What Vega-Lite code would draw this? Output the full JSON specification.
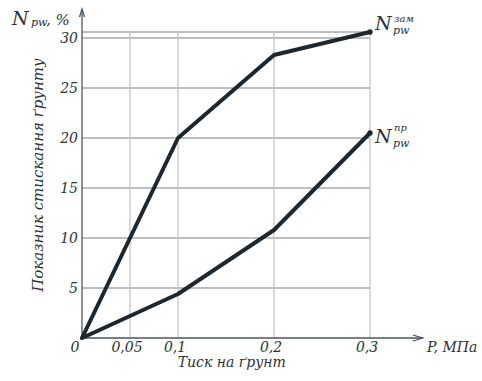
{
  "$schema": "https://vega.github.io/schema/vega-lite/v6.json",
  "width": 360,
  "height": 338,
  "autosize": "none",
  "padding": {"left": 82, "top": 0, "right": 40, "bottom": 43},
  "background": "white",
  "config": {
    "view": {"stroke": null},
    "text": {"font": "DejaVu Serif", "fontStyle": "italic", "color": "#2b3238"}
  },
  "datasets": {
    "series": [
      {"series": "зам", "p": 0, "n": 0},
      {"series": "зам", "p": 0.1, "n": 20},
      {"series": "зам", "p": 0.2, "n": 28.3},
      {"series": "зам", "p": 0.3, "n": 30.6},
      {"series": "пр", "p": 0, "n": 0},
      {"series": "пр", "p": 0.1, "n": 4.4},
      {"series": "пр", "p": 0.2, "n": 10.8},
      {"series": "пр", "p": 0.3, "n": 20.5}
    ],
    "hgrid": [{"n": 5}, {"n": 10}, {"n": 15}, {"n": 20}, {"n": 25}, {"n": 30}, {"n": 30.6}],
    "vgrid": [{"p": 0.05}, {"p": 0.1}, {"p": 0.2}, {"p": 0.3}],
    "xticks": [{"p": 0, "label": "0"}, {"p": 0.05, "label": "0,05"}, {"p": 0.1, "label": "0,1"}, {"p": 0.2, "label": "0,2"}, {"p": 0.3, "label": "0,3"}],
    "yticks": [{"n": 5, "label": "5"}, {"n": 10, "label": "10"}, {"n": 15, "label": "15"}, {"n": 20, "label": "20"}, {"n": 25, "label": "25"}, {"n": 30, "label": "30"}],
    "one": [{}]
  },
  "layer": [
    {
      "data": {"name": "hgrid"},
      "mark": {"type": "rule", "color": "#a8a8a8", "strokeWidth": 1.3},
      "encoding": {
        "y": {"field": "n", "type": "quantitative", "scale": {"domain": [0, 33.8], "nice": false}, "axis": null},
        "x": {"datum": 0, "type": "quantitative", "scale": {"domain": [0, 0.375], "nice": false}, "axis": null},
        "x2": {"datum": 0.3}
      }
    },
    {
      "data": {"name": "vgrid"},
      "mark": {"type": "rule", "color": "#c6c6c6", "strokeWidth": 1.3},
      "encoding": {
        "x": {"field": "p", "type": "quantitative", "axis": null},
        "y": {"datum": 0, "type": "quantitative", "axis": null},
        "y2": {"datum": 30.6}
      }
    },
    {
      "data": {"name": "one"},
      "mark": {"type": "rule", "color": "#4b545c", "strokeWidth": 1.3},
      "encoding": {
        "x": {"datum": 0, "type": "quantitative", "axis": null},
        "y": {"datum": 0, "type": "quantitative", "axis": null},
        "y2": {"datum": 32.9}
      }
    },
    {
      "data": {"name": "one"},
      "mark": {"type": "rule", "color": "#4b545c", "strokeWidth": 1.3},
      "encoding": {
        "x": {"datum": 0, "type": "quantitative", "axis": null},
        "x2": {"datum": 0.355},
        "y": {"datum": 0, "type": "quantitative", "axis": null}
      }
    },
    {
      "data": {"name": "one"},
      "mark": {"type": "point", "shape": "M-2,-0.6L0,0L-2,0.6", "filled": false, "size": 100, "stroke": "#4b545c", "strokeWidth": 1.2, "opacity": 1},
      "encoding": {
        "x": {"datum": 0.355, "type": "quantitative", "axis": null},
        "y": {"datum": 0, "type": "quantitative", "axis": null}
      }
    },
    {
      "data": {"name": "one"},
      "mark": {"type": "point", "shape": "M-0.5,1.6L0,0L0.5,1.6", "filled": false, "size": 100, "stroke": "#4b545c", "strokeWidth": 1.2, "opacity": 1},
      "encoding": {
        "x": {"datum": 0, "type": "quantitative", "axis": null},
        "y": {"datum": 32.9, "type": "quantitative", "axis": null}
      }
    },
    {
      "data": {"name": "series"},
      "mark": {"type": "line", "color": "#1f272e", "strokeWidth": 4, "strokeCap": "round", "strokeJoin": "round"},
      "encoding": {
        "x": {"field": "p", "type": "quantitative", "axis": null},
        "y": {"field": "n", "type": "quantitative", "axis": null},
        "detail": {"field": "series"}
      }
    },
    {
      "data": {"name": "series"},
      "transform": [{"filter": "datum.p == 0.3"}],
      "mark": {"type": "circle", "color": "#1f272e", "size": 28, "opacity": 1},
      "encoding": {
        "x": {"field": "p", "type": "quantitative", "axis": null},
        "y": {"field": "n", "type": "quantitative", "axis": null}
      }
    },
    {
      "data": {"name": "xticks"},
      "transform": [{"filter": "datum.p > 0"}],
      "mark": {"type": "text", "fontSize": 14, "align": "center", "baseline": "alphabetic", "dx": -3, "dy": 14},
      "encoding": {
        "x": {"field": "p", "type": "quantitative", "axis": null},
        "y": {"datum": 0, "type": "quantitative", "axis": null},
        "text": {"field": "label"}
      }
    },
    {
      "data": {"name": "xticks"},
      "transform": [{"filter": "datum.p == 0"}],
      "mark": {"type": "text", "fontSize": 14, "align": "center", "baseline": "alphabetic", "dx": -7, "dy": 14},
      "encoding": {
        "x": {"field": "p", "type": "quantitative", "axis": null},
        "y": {"datum": 0, "type": "quantitative", "axis": null},
        "text": {"field": "label"}
      }
    },
    {
      "data": {"name": "yticks"},
      "mark": {"type": "text", "fontSize": 14, "align": "right", "baseline": "middle", "dx": -4, "dy": 1},
      "encoding": {
        "x": {"datum": 0, "type": "quantitative", "axis": null},
        "y": {"field": "n", "type": "quantitative", "axis": null},
        "text": {"field": "label"}
      }
    },
    {
      "data": {"name": "one"},
      "mark": {"type": "text", "text": "Тиск на ґрунт", "fontSize": 14, "align": "center", "baseline": "alphabetic", "dy": 29},
      "encoding": {
        "x": {"datum": 0.156, "type": "quantitative", "axis": null},
        "y": {"datum": 0, "type": "quantitative", "axis": null}
      }
    },
    {
      "data": {"name": "one"},
      "mark": {"type": "text", "text": "Показник стискання ґрунту", "fontSize": 15, "align": "center", "baseline": "middle", "angle": 270},
      "encoding": {
        "x": {"datum": -0.0458, "type": "quantitative", "axis": null},
        "y": {"datum": 16.3, "type": "quantitative", "axis": null}
      }
    },
    {
      "data": {"name": "series"},
      "transform": [{"filter": "datum.p == 0.3 && datum.series == 'зам'"}],
      "encoding": {
        "x": {"field": "p", "type": "quantitative", "axis": null},
        "y": {"field": "n", "type": "quantitative", "axis": null}
      },
      "layer": [
        {"mark": {"type": "text", "text": "N", "fontSize": 19, "align": "left", "baseline": "alphabetic", "dx": 5, "dy": -2}},
        {"mark": {"type": "text", "text": "зам", "fontSize": 10, "align": "left", "baseline": "alphabetic", "dx": 24, "dy": -10}},
        {"mark": {"type": "text", "text": "pw", "fontSize": 11, "align": "left", "baseline": "alphabetic", "dx": 23, "dy": 2}}
      ]
    },
    {
      "data": {"name": "series"},
      "transform": [{"filter": "datum.p == 0.3 && datum.series == 'пр'"}],
      "encoding": {
        "x": {"field": "p", "type": "quantitative", "axis": null},
        "y": {"field": "n", "type": "quantitative", "axis": null}
      },
      "layer": [
        {"mark": {"type": "text", "text": "N", "fontSize": 19, "align": "left", "baseline": "alphabetic", "dx": 5, "dy": 10}},
        {"mark": {"type": "text", "text": "пр", "fontSize": 10, "align": "left", "baseline": "alphabetic", "dx": 24, "dy": -2}},
        {"mark": {"type": "text", "text": "pw", "fontSize": 11, "align": "left", "baseline": "alphabetic", "dx": 23, "dy": 14}}
      ]
    },
    {
      "data": {"name": "one"},
      "encoding": {
        "x": {"datum": 0, "type": "quantitative", "axis": null},
        "y": {"datum": 31.3, "type": "quantitative", "axis": null}
      },
      "layer": [
        {"mark": {"type": "text", "text": "N", "fontSize": 19, "align": "left", "baseline": "alphabetic", "dx": -70}},
        {"mark": {"type": "text", "text": "pw", "fontSize": 11, "align": "left", "baseline": "alphabetic", "dx": -51, "dy": 1}},
        {"mark": {"type": "text", "text": ", %", "fontSize": 15, "align": "left", "baseline": "alphabetic", "dx": -36}}
      ]
    },
    {
      "data": {"name": "one"},
      "mark": {"type": "text", "text": "P, МПа", "fontSize": 14, "align": "left", "baseline": "alphabetic", "dy": 14},
      "encoding": {
        "x": {"datum": 0.3594, "type": "quantitative", "axis": null},
        "y": {"datum": 0, "type": "quantitative", "axis": null}
      }
    }
  ]
}
